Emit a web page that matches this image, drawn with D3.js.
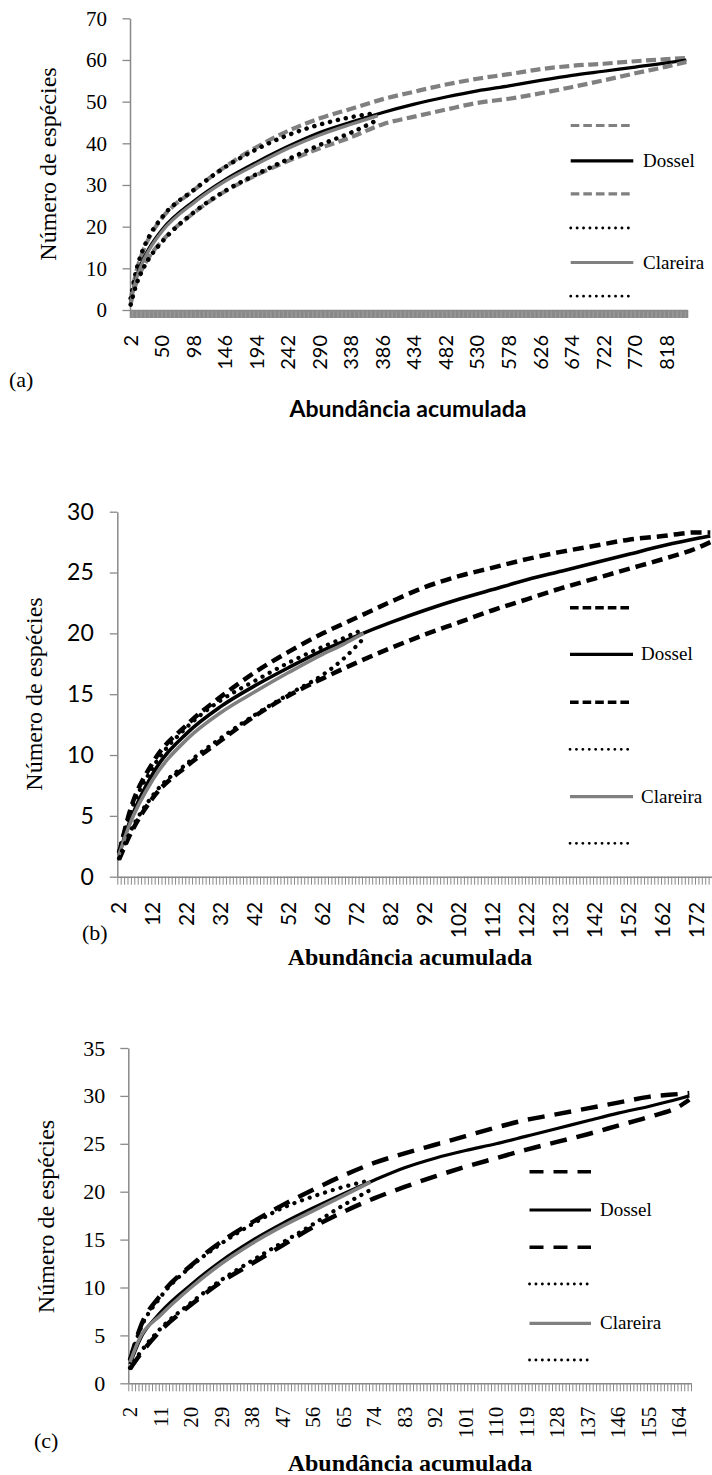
<!DOCTYPE html>
<html><head><meta charset="utf-8">
<script src="https://cdn.jsdelivr.net/npm/d3@7"></script>
<style>body{margin:0;background:#fff}svg{display:block}</style>
</head><body>
<svg id="chart" width="712" height="1475"></svg>
<script>
// ================= DATA =================
// ---- Panel (a) ----
const catsA   = d3.range(2, 850, 2);
const labelsA = [2,50,98,146,194,242,290,338,386,434,482,530,578,626,674,722,770,818];
const xA      = [2,10,20,30,50,98,146,194,242,290,338,386,434,482,530,578,626,674,722,770,818,848];
const dosselA   = [2,7.5,11.8,14.8,19.3,26.1,31.3,35.5,39.3,42.6,45.1,47.4,49.4,51.1,52.6,53.8,55.1,56.3,57.3,58.3,59.3,60];
const dosselUpA = [2.5,8.8,13.8,17.3,22.1,28.7,34.4,39.1,43.0,46.0,48.3,50.6,52.4,54.1,55.5,56.6,57.8,58.6,59.1,59.7,60.2,60.5];
const dosselLoA = [1.5,6.3,10.0,12.7,16.6,23.3,28.5,32.4,35.8,38.8,41.5,44.6,46.4,48.1,49.7,50.7,52.0,53.5,55.1,56.8,58.4,59.5];
const xAc       = [2,10,20,30,50,98,146,194,242,290,338,378];
const clareiraA   = [2,7.2,11.4,14.4,18.9,25.7,30.9,35.0,38.8,42.0,44.6,46.6];
const clareiraUpA = [2.8,9.2,14.2,17.6,22.3,28.8,34.3,38.6,42.0,44.5,46.3,47.3];
const clareiraLoA = [1.3,5.8,9.6,12.4,16.4,23.4,28.6,32.6,36.2,39.6,42.6,45.6];
const yTicksA = [0,10,20,30,40,50,60,70];

// ---- Panel (b) ----
const catsB   = d3.range(2, 177, 1);
const labelsB = [2,12,22,32,42,52,62,72,82,92,102,112,122,132,142,152,162,172];
const xB      = [2,5,12,22,32,42,52,62,72,82,92,102,112,122,132,142,152,162,172,176];
const dosselB   = [1.8,4.4,8.5,11.8,14.0,15.7,17.2,18.6,19.8,20.9,21.9,22.8,23.6,24.4,25.1,25.8,26.5,27.2,27.8,28.0];
const dosselUpB = [1.9,5.2,9.4,12.5,14.8,16.8,18.5,20.0,21.3,22.6,23.8,24.7,25.4,26.1,26.7,27.2,27.7,28.0,28.3,28.3];
const dosselLoB = [1.4,3.3,6.5,9.1,11.2,13.2,14.9,16.3,17.6,18.8,19.9,20.9,21.9,22.8,23.7,24.5,25.3,26.1,27.0,27.5];
const xBc       = [2,5,12,22,32,42,52,62,68,72,74];
const clareiraB   = [1.8,4.2,8.0,11.3,13.5,15.2,16.8,18.3,19.1,19.7,20.0];
const clareiraUpB = [2.1,5.0,9.0,12.3,14.5,16.1,17.6,18.9,19.6,20.1,20.3];
const clareiraLoB = [1.5,3.5,6.7,9.3,11.4,13.3,15.0,16.6,17.9,19.0,19.6];
const yTicksB = [0,5,10,15,20,25,30];

// ---- Panel (c) ----
const catsC   = d3.range(2, 168, 1);
const labelsC = [2,11,20,29,38,47,56,65,74,83,92,101,110,119,128,137,146,155,164];
const xC      = [2,5,11,20,29,38,47,56,65,74,83,92,101,110,119,128,137,146,155,164,167];
const dosselC   = [2.0,4.6,7.4,10.3,12.8,14.9,16.7,18.3,19.8,21.2,22.5,23.5,24.3,25.0,25.8,26.6,27.4,28.2,28.9,29.7,30.0];
const dosselUpC = [2.4,5.8,9.2,12.3,14.8,16.8,18.6,20.2,21.7,23.0,24.0,24.9,25.8,26.7,27.5,28.1,28.7,29.3,29.9,30.2,30.3];
const dosselLoC = [1.5,3.0,5.5,8.2,10.6,12.5,14.4,16.3,17.9,19.3,20.5,21.6,22.6,23.5,24.4,25.2,26.0,26.9,27.8,28.9,29.6];
const xCc       = [2,5,11,20,29,38,47,56,65,73];
const clareiraC   = [2.2,4.8,7.1,10.0,12.5,14.6,16.4,18.0,19.6,21.0];
const clareiraUpC = [2.5,5.6,9.0,12.2,14.6,16.6,18.3,19.5,20.5,21.2];
const clareiraLoC = [1.6,3.2,5.7,8.4,10.8,12.8,14.7,16.6,18.6,20.2];
const yTicksC = [0,5,10,15,20,25,30,35];

const legendNames = ["", "Dossel", "", "", "Clareira", ""];

// ================= DRAWING =================
const svg = d3.select("#chart");
svg.append("rect").attr("width",712).attr("height",1475).attr("fill","#fff");
const AX = "#898989";
const SERIF = "'Liberation Serif','Times New Roman',serif";
const SANS = "Lato,'Liberation Sans',Arial,sans-serif";
const GRAY = "#808080";

function zip(xs, ys){ return xs.map((v,i)=>[v, ys[i]]); }

function drawPanel(p){
  const g = svg.append("g");
  const x = d3.scaleBand().domain(p.cats).range([p.x0, p.x1]);
  const y = d3.scaleLinear().domain([0, p.ymax]).range([p.y0, p.yTop]);

  // minor category ticks (between categories)
  const xi = d3.scaleLinear().domain([0, p.cats.length]).range([p.x0, p.x1]);
  const gm = g.append("g").attr("transform",`translate(0,${p.y0})`)
    .call(d3.axisBottom(xi).tickValues(d3.range(0, p.cats.length+1)).tickSize(p.xTick).tickFormat("").tickSizeOuter(0));
  gm.select(".domain").attr("stroke", AX).attr("stroke-width", 1.5);
  gm.selectAll(".tick line").attr("stroke", AX).attr("stroke-width", p.minorW);

  // y axis
  const gy = g.append("g").attr("transform",`translate(${p.x0},0)`)
    .call(d3.axisLeft(y).tickValues(p.yTicks).tickSize(p.yTick).tickPadding(p.yPad).tickSizeOuter(0));
  gy.select(".domain").attr("stroke", AX).attr("stroke-width", 1.5);
  gy.selectAll(".tick line").attr("stroke", AX).attr("stroke-width", 1.3);
  gy.selectAll(".tick text").attr("font-family", p.yFont).attr("font-size", p.yFontSize).attr("fill","#000");

  // x category labels (rotated)
  const gl = g.append("g").attr("transform",`translate(0,${p.labelTop})`)
    .call(d3.axisBottom(x).tickValues(p.labels).tickSize(0));
  gl.select(".domain").remove();
  gl.selectAll(".tick text")
    .attr("transform","rotate(-90)").attr("x",0).attr("y",0).attr("dy","0.35em")
    .attr("text-anchor","end").attr("font-family", p.xFont).attr("font-size", p.xFontSize).attr("fill","#000");

  // series
  const line = d3.line().x(d => x(d[0]) + x.bandwidth()/2).y(d => y(d[1])).curve(d3.curveMonotoneX);
  p.series.forEach(s => {
    g.append("path").attr("d", line(zip(s.xs, s.ys))).attr("fill","none")
      .attr("stroke", s.st.c).attr("stroke-width", s.st.w)
      .attr("stroke-dasharray", s.st.d || null).attr("stroke-linecap", s.st.cap || "butt")
      .attr("stroke-linejoin","round");
  });

  // legend
  p.legend.rows.forEach((r, i) => {
    const st = p.legend.styles[i];
    g.append("line").attr("x1", p.legend.lx0).attr("x2", p.legend.lx1).attr("y1", r).attr("y2", r)
      .attr("stroke", st.c).attr("stroke-width", st.w).attr("stroke-dasharray", st.d || null)
      .attr("stroke-linecap", st.cap || "butt");
    if (legendNames[i]) {
      g.append("text").attr("x", p.legend.tx).attr("y", r + 6).text(legendNames[i])
        .attr("font-family", SERIF).attr("font-size", 19).attr("fill","#000");
    }
  });

  // axis titles
  g.append("text").attr("transform",`translate(${p.yTitleX},${p.yTitleY}) rotate(-90)`)
    .attr("text-anchor","middle").attr("font-family", SERIF).attr("font-size", 24)
    .text("Número de espécies");
  g.append("text").attr("x", p.xTitleX).attr("y", p.xTitleY).attr("text-anchor","middle")
    .attr("font-family", p.xTitleFont).attr("font-weight","bold").attr("font-size", p.xTitleSize)
    .text("Abundância acumulada");
  g.append("text").attr("x", p.tagX).attr("y", p.tagY).attr("font-family", SERIF).attr("font-size", 22)
    .text(p.tag);
}

// ---- styles ----
const stA = {
  dash: {c:GRAY, w:4.2, d:"10,4.5"},
  solidK: {c:"#000", w:3.2},
  solidG: {c:GRAY, w:3.2},
  dot: {c:"#000", w:4.5, d:"0.1,8", cap:"round"}
};
const legA = {
  dash: {c:GRAY, w:3.2, d:"8.6,4"},
  solidK: {c:"#000", w:3.2},
  solidG: {c:GRAY, w:3.2},
  dot: {c:"#000", w:2.8, d:"0.1,6.3", cap:"round"}
};

drawPanel({
  cats: catsA, labels: labelsA, x0:130, x1:687, y0:310, yTop:18.3, ymax:70, yTicks:yTicksA,
  yTick:7.5, yPad:15.5, yFont:SERIF, yFontSize:21, xTick:8, minorW:1.6,
  labelTop:335, xFont:SANS, xFontSize:20,
  series: [
    {xs:xA, ys:dosselUpA, st:stA.dash},
    {xs:xA, ys:dosselA, st:stA.solidK},
    {xs:xA, ys:dosselLoA, st:stA.dash},
    {xs:xAc, ys:clareiraUpA, st:stA.dot},
    {xs:xAc, ys:clareiraA, st:stA.solidG},
    {xs:xAc, ys:clareiraLoA, st:stA.dot}
  ],
  legend: {rows:[125.5,160.8,193.8,228,262.5,296.2], lx0:570.7, lx1:633.3, tx:643,
           styles:[legA.dash, legA.solidK, legA.dash, legA.dot, legA.solidG, legA.dot]},
  yTitleX:56, yTitleY:164, xTitleX:408, xTitleY:417, xTitleFont:SANS, xTitleSize:23,
  tag:"(a)", tagX:9, tagY:387
});

const stB = {
  dash: {c:"#000", w:4.5, d:"11,6"},
  solidK: {c:"#000", w:3.6},
  solidG: {c:GRAY, w:3.6},
  dot: {c:"#000", w:4.2, d:"0.1,8", cap:"round"}
};
const legB = {
  dash: {c:"#000", w:3.4, d:"8.6,4"},
  solidK: {c:"#000", w:3.2},
  solidG: {c:GRAY, w:3.2},
  dot: {c:"#000", w:2.8, d:"0.1,6.3", cap:"round"}
};
drawPanel({
  cats: catsB, labels: labelsB, x0:117.3, x1:712, y0:876.7, yTop:511.7, ymax:30, yTicks:yTicksB,
  yTick:7.5, yPad:16, yFont:SANS, yFontSize:23, xTick:8, minorW:1,
  labelTop:901.7, xFont:SANS, xFontSize:21,
  series: [
    {xs:xB, ys:dosselUpB, st:stB.dash},
    {xs:xB, ys:dosselB, st:stB.solidK},
    {xs:xB, ys:dosselLoB, st:stB.dash},
    {xs:xBc, ys:clareiraUpB, st:stB.dot},
    {xs:xBc, ys:clareiraB, st:stB.solidG},
    {xs:xBc, ys:clareiraLoB, st:stB.dot}
  ],
  legend: {rows:[607.7,654.3,702.3,749.3,796.7,843.3], lx0:570, lx1:633, tx:641,
           styles:[legB.dash, legB.solidK, legB.dash, legB.dot, legB.solidG, legB.dot]},
  yTitleX:42, yTitleY:694, xTitleX:410, xTitleY:965, xTitleFont:SERIF, xTitleSize:24,
  tag:"(b)", tagX:82, tagY:940
});

const stC = {
  dash: {c:"#000", w:4.5, d:"17,10"},
  solidK: {c:"#000", w:3.2},
  solidG: {c:GRAY, w:3.6},
  dot: {c:"#000", w:4.2, d:"0.1,8", cap:"round"}
};
const legC = {
  dash: {c:"#000", w:3.4, d:"14,10"},
  solidK: {c:"#000", w:3.2},
  solidG: {c:GRAY, w:3.2},
  dot: {c:"#000", w:2.8, d:"0.1,6.3", cap:"round"}
};
drawPanel({
  cats: catsC, labels: labelsC, x0:128.3, x1:691, y0:1383.3, yTop:1048, ymax:35, yTicks:yTicksC,
  yTick:8, yPad:15, yFont:SERIF, yFontSize:22, xTick:8, minorW:1,
  labelTop:1406.7, xFont:SERIF, xFontSize:21,
  series: [
    {xs:xC, ys:dosselUpC, st:stC.dash},
    {xs:xC, ys:dosselC, st:stC.solidK},
    {xs:xC, ys:dosselLoC, st:stC.dash},
    {xs:xCc, ys:clareiraUpC, st:stC.dot},
    {xs:xCc, ys:clareiraC, st:stC.solidG},
    {xs:xCc, ys:clareiraLoC, st:stC.dot}
  ],
  legend: {rows:[1171.7,1210,1247.3,1284,1323.3,1360], lx0:529.5, lx1:591, tx:600,
           styles:[legC.dash, legC.solidK, legC.dash, legC.dot, legC.solidG, legC.dot]},
  yTitleX:54, yTitleY:1216.5, xTitleX:410, xTitleY:1471, xTitleFont:SERIF, xTitleSize:24,
  tag:"(c)", tagX:34, tagY:1448
});
</script>
</body></html>
